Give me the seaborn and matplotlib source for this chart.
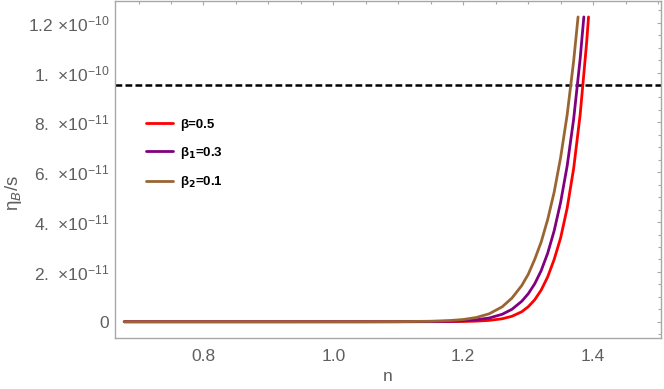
import numpy as np
import pandas as pd
import matplotlib
matplotlib.use("Agg")
import matplotlib.pyplot as plt
from matplotlib.lines import Line2D
from matplotlib.ticker import FixedLocator, FixedFormatter, MultipleLocator
import seaborn as sns

# ---- data (eta_B/s in units of 1e-11) ----
n_red = [0.678, 0.95, 1.05, 1.10, 1.15, 1.18, 1.20, 1.22, 1.24, 1.26, 1.275, 1.29, 1.30,
         1.31, 1.32, 1.33, 1.34, 1.35, 1.36, 1.37, 1.38, 1.39, 1.3929]
eta_red = [0.0, 0.0, 0.0001, 0.0004, 0.002, 0.006, 0.012, 0.025, 0.055, 0.12, 0.22, 0.40, 0.60,
           0.88, 1.27, 1.80, 2.50, 3.37, 4.56, 6.15, 8.30, 11.20, 12.23]

n_purple = [0.678, 0.95, 1.05, 1.10, 1.15, 1.18, 1.20, 1.22, 1.24, 1.26, 1.275, 1.29, 1.30,
            1.31, 1.32, 1.33, 1.34, 1.35, 1.36, 1.37, 1.38, 1.3857]
eta_purple = [0.0, 0.0, 0.0003, 0.0015, 0.008, 0.02, 0.04, 0.08, 0.15, 0.30, 0.50, 0.82, 1.12,
              1.52, 2.05, 2.75, 3.65, 4.80, 6.25, 8.13, 10.54, 12.23]

n_brown = [0.678, 0.95, 1.05, 1.10, 1.15, 1.18, 1.20, 1.22, 1.24, 1.26, 1.275, 1.29, 1.30,
           1.31, 1.32, 1.33, 1.34, 1.35, 1.36, 1.37, 1.3768]
eta_brown = [0.0, 0.0, 0.001, 0.004, 0.02, 0.05, 0.09, 0.17, 0.32, 0.60, 0.95, 1.45, 1.90,
             2.50, 3.20, 4.10, 5.20, 6.60, 8.30, 10.46, 12.23]

labels = ["β=0.5", r"β$_\mathbf{1}$=0.3", r"β$_\mathbf{2}$=0.1"]
colors = ["#ff0000", "#800080", "#996633"]
observed = 9.5  # units of 1e-11

x_ticks = [0.8, 1.0, 1.2, 1.4]
x_tick_labels = ["0.8", "1.0", "1.2", "1.4"]
y_ticks = [0, 2, 4, 6, 8, 10, 12]  # units of 1e-11
y_tick_labels = ["0",
                 r"$\mathregular{2.\ {\times}10^{-11}}$",
                 r"$\mathregular{4.\ {\times}10^{-11}}$",
                 r"$\mathregular{6.\ {\times}10^{-11}}$",
                 r"$\mathregular{8.\ {\times}10^{-11}}$",
                 r"$\mathregular{1.\ {\times}10^{-10}}$",
                 r"$\mathregular{1.2\ {\times}10^{-10}}$"]
SCALE = 1e-11

frames = []
for lab, nn, ee in zip(labels, [n_red, n_purple, n_brown], [eta_red, eta_purple, eta_brown]):
    frames.append(pd.DataFrame({"n": nn, "eta": np.array(ee) * SCALE, "curve": lab}))
df = pd.concat(frames, ignore_index=True)

sns.set_theme(style="white")
plt.rcParams["font.family"] = ["Liberation Sans", "DejaVu Sans"]

W, H = 664, 389
fig = plt.figure(figsize=(W / 100, H / 100), dpi=100)
ax = fig.add_axes([115 / W, 1 - 338.3 / H, (661 - 115) / W, (338.3 - 1) / H])

sns.lineplot(data=df, x="n", y="eta", hue="curve", hue_order=labels,
             palette=dict(zip(labels, colors)), linewidth=2.0, sort=False,
             legend=False, ax=ax, estimator=None)

ax.axhline(observed * SCALE, color="black", linewidth=1.8, dashes=(2.7, 1.3), zorder=1)

ax.set_xlim(0.6638, 1.5045)
ax.set_ylim(-0.664 * SCALE, 12.87 * SCALE)

ax.xaxis.set_major_locator(FixedLocator(x_ticks))
ax.xaxis.set_major_formatter(FixedFormatter(x_tick_labels))
ax.xaxis.set_minor_locator(MultipleLocator(0.05))
ax.yaxis.set_major_locator(FixedLocator([v * SCALE for v in y_ticks]))
ax.yaxis.set_major_formatter(FixedFormatter(y_tick_labels))
ax.yaxis.set_minor_locator(MultipleLocator(0.5 * SCALE))

frame_col = "#a8a8a8"
for s in ax.spines.values():
    s.set_color(frame_col)
    s.set_linewidth(1.0)

ax.tick_params(which="both", direction="in", top=True, right=True, color=frame_col,
               width=0.8, labelcolor="#5f5f5f", labelsize=12.5)
ax.tick_params(which="major", length=3.2)
ax.tick_params(which="minor", length=1.9)
ax.tick_params(axis="x", which="major", pad=8)
ax.tick_params(axis="y", which="major", pad=4)

ax.set_xlabel("n", fontsize=12.5, color="#5f5f5f")
ax.set_ylabel(r"η$_B$/s", fontsize=13.5, color="#5f5f5f")
ax.xaxis.set_label_coords(0.5, -0.092)
ax.yaxis.set_label_coords((24 - 115) / 546, 0.432)

handles = [Line2D([], [], color=c, linewidth=2.0) for c in colors]
leg = ax.legend(handles, labels, loc="upper left", frameon=False,
                bbox_to_anchor=(145.7 / W, 1 - 118.5 / H), bbox_transform=fig.transFigure,
                borderpad=0, borderaxespad=0, handlelength=2.05, handletextpad=0.55,
                labelspacing=1.05, prop={"weight": "bold", "size": 9.5})
for t in leg.get_texts():
    t.set_color("black")

fig.savefig("out.png", dpi=100)
